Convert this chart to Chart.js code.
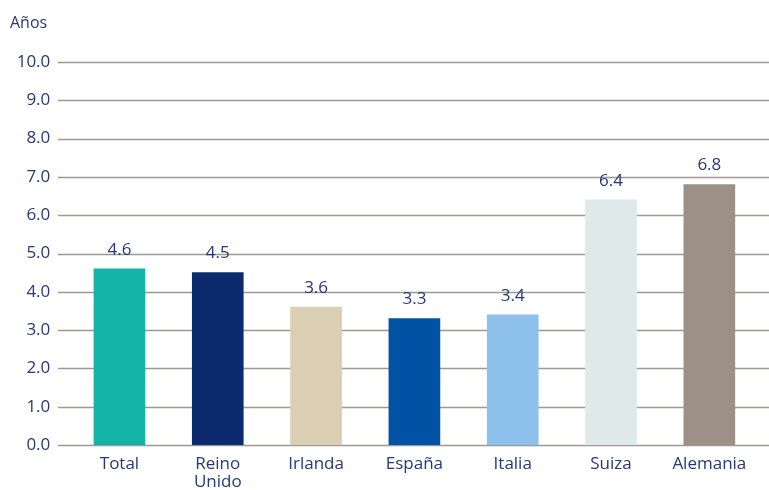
<!DOCTYPE html>
<html>
<head>
<meta charset="utf-8">
<script src="https://cdn.jsdelivr.net/npm/chart.js@4"></script>
<style>
  html, body { margin: 0; padding: 0; background: #fff; }
  #wrap { width: 769px; height: 490px; }
</style>
</head>
<body>
<div id="wrap"><canvas id="yearsBar" width="769" height="490"></canvas></div>
<script>
// Años por país
const countries = ['Total', ['Reino', 'Unido'], 'Irlanda', 'España', 'Italia', 'Suiza', 'Alemania'];
const years = [4.6, 4.5, 3.6, 3.3, 3.4, 6.4, 6.8];
const barColors = ['#14b5a8', '#0c2b6e', '#dacfb3', '#0053a4', '#8dc0ea', '#dfeae8', '#9c9087'];
const yTicks = [0, 1, 2, 3, 4, 5, 6, 7, 8, 9, 10];
const unitLabel = 'Años';

const textColor = '#24387b';
const fontFamily = "'Open Sans', sans-serif";

// horizontal gridlines running across the whole width
const fullGrid = {
    id: 'fullGrid',
    beforeDatasetsDraw(chart) {
        const ctx = chart.ctx;
        const y = chart.scales.y;
        ctx.save();
        ctx.strokeStyle = '#9d9993';
        ctx.lineWidth = 1.3;
        yTicks.forEach(v => {
            const py = Math.round(y.getPixelForValue(v)) + 0.5;
            ctx.beginPath();
            ctx.moveTo(58, py);
            ctx.lineTo(chart.width, py);
            ctx.stroke();
        });
        ctx.restore();
    }
};

// value labels over the bars + unit label
const valueLabels = {
    id: 'valueLabels',
    afterDatasetsDraw(chart) {
        const ctx = chart.ctx;
        const meta = chart.getDatasetMeta(0);
        ctx.save();
        ctx.fillStyle = textColor;
        ctx.font = '17px ' + fontFamily;
        ctx.textAlign = 'center';
        ctx.textBaseline = 'middle';
        meta.data.forEach((bar, i) => {
            ctx.fillText(years[i].toFixed(1), bar.x, bar.y - 19);
        });
        ctx.textAlign = 'left';
        ctx.font = '16px ' + fontFamily;
        ctx.fillText(unitLabel, 10, 23);
        ctx.restore();
    }
};

new Chart(document.getElementById('yearsBar').getContext('2d'), {
    type: 'bar',
    data: {
        labels: countries,
        datasets: [{
            data: years,
            backgroundColor: barColors,
            borderWidth: 0,
            barThickness: 51
        }]
    },
    options: {
        responsive: false,
        animation: false,
        layout: {
            padding: { top: 62, right: 10.5, left: 0, bottom: 0 }
        },
        plugins: {
            legend: { display: false },
            tooltip: { enabled: false }
        },
        scales: {
            y: {
                min: 0,
                max: 10,
                afterFit(scale) { scale.width = 70.3; },
                afterBuildTicks(scale) { scale.ticks = yTicks.map(v => ({ value: v })); },
                grid: { display: false, drawTicks: false },
                border: { display: false },
                ticks: {
                    padding: 20,
                    color: textColor,
                    font: { family: fontFamily, size: 17 },
                    callback: v => v.toFixed(1)
                }
            },
            x: {
                afterFit(scale) { scale.height = 45; },
                grid: { display: false, drawTicks: false },
                border: { display: false },
                ticks: {
                    padding: 10,
                    color: textColor,
                    maxRotation: 0,
                    autoSkip: false,
                    font: { family: fontFamily, size: 17, lineHeight: 1.05 }
                }
            }
        }
    },
    plugins: [fullGrid, valueLabels]
});
</script>
</body>
</html>
